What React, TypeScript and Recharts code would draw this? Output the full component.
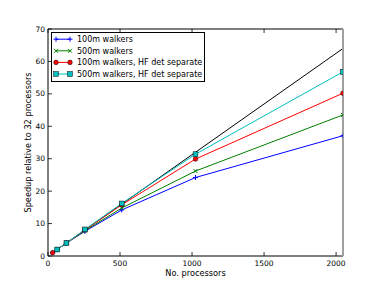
import { LineChart, Line, XAxis, YAxis } from "recharts";

// speedup data (x = number of processors)
const processors = [32, 64, 128, 256, 512, 1024, 2048];
const idealSpeedup = [1, 2, 4, 8, 16, 32, 64];
const walkers100m = [1, 2, 4, 7.6, 14.2, 24.2, 37.1];
const walkers500m = [null, 2, 4, 7.8, 14.8, 26.2, 43.5];
const walkers100mHF = [1, 2, 4, 8, 15.8, 29.9, 50.2];
const walkers500mHF = [null, 2, 4, 8.2, 16.2, 31.4, 56.8];

const xTicks = [0, 500, 1000, 1500, 2000];
const yTicks = [0, 10, 20, 30, 40, 50, 60, 70];

const rows = processors.map((p, i) => ({
  p,
  ideal: idealSpeedup[i],
  w100: walkers100m[i],
  w500: walkers500m[i],
  w100hf: walkers100mHF[i],
  w500hf: walkers500mHF[i],
}));

const series = [
  { key: "w100", name: "100m walkers", color: "#0000ff", marker: "plus" },
  { key: "w500", name: "500m walkers", color: "#008000", marker: "cross" },
  { key: "w100hf", name: "100m walkers, HF det separate", color: "#ff0000", marker: "circle" },
  { key: "w500hf", name: "500m walkers, HF det separate", color: "#00bfbf", marker: "square" },
];

const font = "'DejaVu Sans', sans-serif";

function Marker({ kind, cx, cy, color }: any) {
  if (cx == null || cy == null) return <g />;
  if (kind === "plus")
    return (
      <g stroke={color} strokeWidth={1}>
        <line x1={cx - 2.5} x2={cx + 2.5} y1={cy} y2={cy} />
        <line x1={cx} x2={cx} y1={cy - 2.5} y2={cy + 2.5} />
      </g>
    );
  if (kind === "cross")
    return (
      <g stroke={color} strokeWidth={1}>
        <line x1={cx - 2} x2={cx + 2} y1={cy - 2} y2={cy + 2} />
        <line x1={cx - 2} x2={cx + 2} y1={cy + 2} y2={cy - 2} />
      </g>
    );
  if (kind === "circle")
    return <circle cx={cx} cy={cy} r={2.3} fill={color} stroke="#000" strokeWidth={0.5} />;
  return (
    <rect x={cx - 2.4} y={cy - 2.4} width={4.8} height={4.8} fill={color} stroke="#000" strokeWidth={0.5} />
  );
}

function BottomTick({ x, y, payload }: any) {
  return (
    <g>
      <line x1={x} x2={x} y1={y} y2={y - 4} stroke="#000" strokeWidth={0.8} />
      <text x={x} y={y + 10} textAnchor="middle" fontSize={7.5} fontFamily={font} fill="#000">
        {payload.value}
      </text>
    </g>
  );
}

function TopTick({ x, y }: any) {
  return <line x1={x} x2={x} y1={y} y2={y + 4} stroke="#000" strokeWidth={0.8} />;
}

function LeftTick({ x, y, payload }: any) {
  return (
    <g>
      <line x1={x} x2={x + 4} y1={y} y2={y} stroke="#000" strokeWidth={0.8} />
      <text x={x - 3} y={y} dy="0.35em" textAnchor="end" fontSize={7.5} fontFamily={font} fill="#000">
        {payload.value}
      </text>
    </g>
  );
}

function RightTick({ x, y }: any) {
  return <line x1={x - 1} x2={x - 5} y1={y} y2={y} stroke="#000" strokeWidth={0.8} />;
}

// y axis title, placed just left of the tick labels
function YTitle({ viewBox }: any) {
  const vb = viewBox || { x: 0, y: 29, width: 48, height: 227 };
  const cx = vb.x + vb.width - 20;
  const cy = vb.y + vb.height / 2;
  return (
    <text
      x={cx}
      y={cy}
      dy="0.35em"
      transform={`rotate(-90 ${cx} ${cy})`}
      textAnchor="middle"
      fontSize={8.2}
      fontFamily={font}
      fill="#000"
    >
      Speedup relative to 32 processors
    </text>
  );
}

function LegendBox() {
  return (
    <svg
      width={156}
      height={52}
      style={{ position: "absolute", left: 50, top: 31, fontFamily: font }}
    >
      <rect x={1.5} y={1.5} width={153} height={49} fill="#fff" stroke="#000" strokeWidth={1} />
      {series.map((s, i) => {
        const y = 8.2 + i * 11.6;
        return (
          <g key={s.key}>
            <line x1={6} x2={20} y1={y} y2={y} stroke={s.color} strokeWidth={1} />
            <Marker kind={s.marker} cx={6} cy={y} color={s.color} />
            <Marker kind={s.marker} cx={20} cy={y} color={s.color} />
            <text x={27} y={y} dy="0.35em" fontSize={8} fill="#000">
              {s.name}
            </text>
          </g>
        );
      })}
    </svg>
  );
}

export default function App() {
  return (
    <div style={{ position: "absolute", left: 0, top: 0, width: 380, height: 285, background: "#fff" }}>
      <LineChart width={380} height={285} data={rows} margin={{ top: 0, right: 0, bottom: 0, left: 0 }}>
        <XAxis
          xAxisId={0}
          dataKey="p"
          type="number"
          domain={[0, 2048]}
          allowDataOverflow
          ticks={xTicks}
          height={29}
          tickSize={0}
          tickMargin={0}
          tickLine={false}
          axisLine={{ stroke: "#000", strokeWidth: 1 }}
          tick={<BottomTick />}
          interval={0}
          label={{
            value: "No. processors",
            position: "center",
            dy: 3,
            style: { fontSize: 8.2, fontFamily: font, fill: "#000" },
          }}
        />
        <XAxis
          xAxisId="top"
          orientation="top"
          dataKey="p"
          type="number"
          domain={[0, 2048]}
          allowDataOverflow
          ticks={xTicks}
          height={29}
          tickSize={0}
          tickMargin={0}
          tickLine={false}
          axisLine={{ stroke: "#000", strokeWidth: 1 }}
          tick={<TopTick />}
          interval={0}
        />
        <YAxis
          yAxisId={0}
          type="number"
          domain={[0, 70]}
          ticks={yTicks}
          width={48}
          tickSize={0}
          tickMargin={0}
          tickLine={false}
          axisLine={{ stroke: "#000", strokeWidth: 1 }}
          tick={<LeftTick />}
          interval={0}
          label={<YTitle />}
        />
        <YAxis
          yAxisId="right"
          orientation="right"
          type="number"
          domain={[0, 70]}
          ticks={yTicks}
          width={37}
          tickSize={0}
          tickMargin={0}
          tickLine={false}
          axisLine={{ stroke: "#a0a0a0", strokeWidth: 2 }}
          tick={<RightTick />}
          interval={0}
        />
        <Line
          dataKey="ideal"
          stroke="#000"
          strokeWidth={1}
          dot={false}
          activeDot={false}
          isAnimationActive={false}
        />
        {series.map((s) => (
          <Line
            key={s.key}
            dataKey={s.key}
            name={s.name}
            stroke={s.color}
            strokeWidth={1}
            activeDot={false}
            isAnimationActive={false}
            dot={(props: any) => (
              <Marker key={`${s.key}-${props.index}`} kind={s.marker} cx={props.cx} cy={props.cy} color={s.color} />
            )}
          />
        ))}
      </LineChart>
      <LegendBox />
    </div>
  );
}
